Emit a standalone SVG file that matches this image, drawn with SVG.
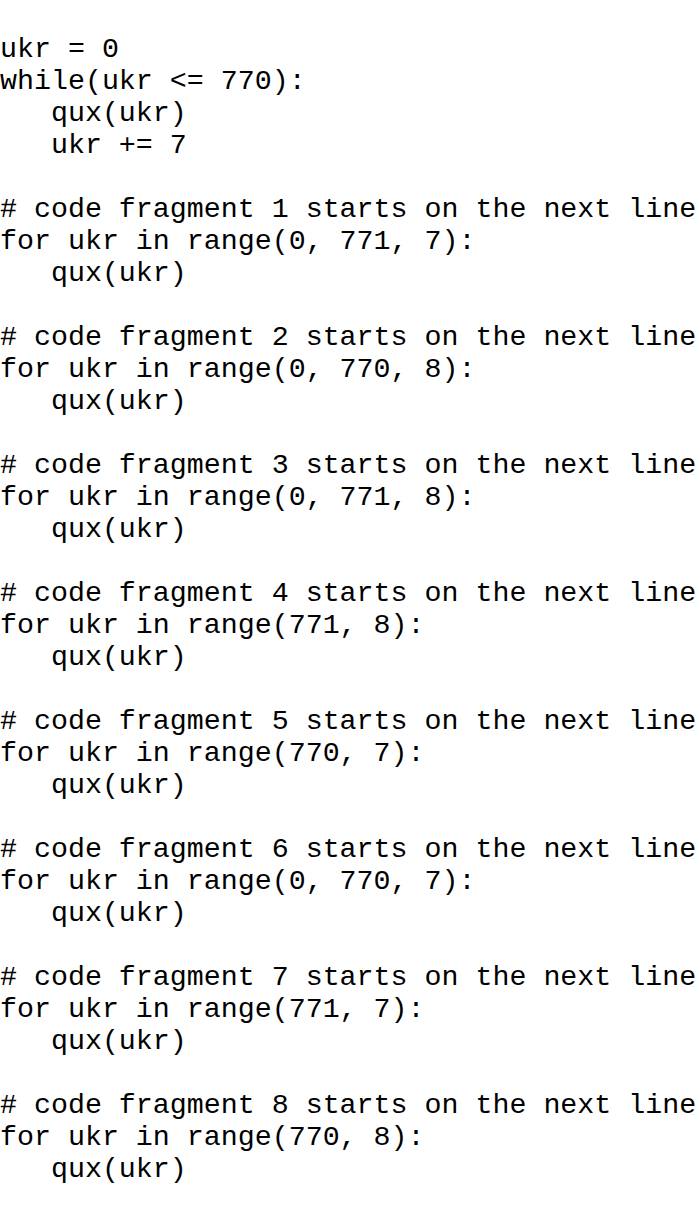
<svg xmlns="http://www.w3.org/2000/svg" width="697" height="1216" viewBox="0 0 697 1216">
<style>text{font-family:"Liberation Mono","DejaVu Sans Mono",monospace;font-size:28.3px;fill:#000;white-space:pre}</style>
<rect width="697" height="1216" fill="#fff"/>
<g id="code" xml:space="preserve">
<text x="0" y="57">ukr = 0</text>
<text x="0" y="89">while(ukr &lt;= 770):</text>
<text x="0" y="121">   qux(ukr)</text>
<text x="0" y="153">   ukr += 7</text>
<text x="0" y="217"># code fragment 1 starts on the next line</text>
<text x="0" y="249">for ukr in range(0, 771, 7):</text>
<text x="0" y="281">   qux(ukr)</text>
<text x="0" y="345"># code fragment 2 starts on the next line</text>
<text x="0" y="377">for ukr in range(0, 770, 8):</text>
<text x="0" y="409">   qux(ukr)</text>
<text x="0" y="473"># code fragment 3 starts on the next line</text>
<text x="0" y="505">for ukr in range(0, 771, 8):</text>
<text x="0" y="537">   qux(ukr)</text>
<text x="0" y="601"># code fragment 4 starts on the next line</text>
<text x="0" y="633">for ukr in range(771, 8):</text>
<text x="0" y="665">   qux(ukr)</text>
<text x="0" y="729"># code fragment 5 starts on the next line</text>
<text x="0" y="761">for ukr in range(770, 7):</text>
<text x="0" y="793">   qux(ukr)</text>
<text x="0" y="857"># code fragment 6 starts on the next line</text>
<text x="0" y="889">for ukr in range(0, 770, 7):</text>
<text x="0" y="921">   qux(ukr)</text>
<text x="0" y="985"># code fragment 7 starts on the next line</text>
<text x="0" y="1017">for ukr in range(771, 7):</text>
<text x="0" y="1049">   qux(ukr)</text>
<text x="0" y="1113"># code fragment 8 starts on the next line</text>
<text x="0" y="1145">for ukr in range(770, 8):</text>
<text x="0" y="1177">   qux(ukr)</text>
</g>
</svg>
